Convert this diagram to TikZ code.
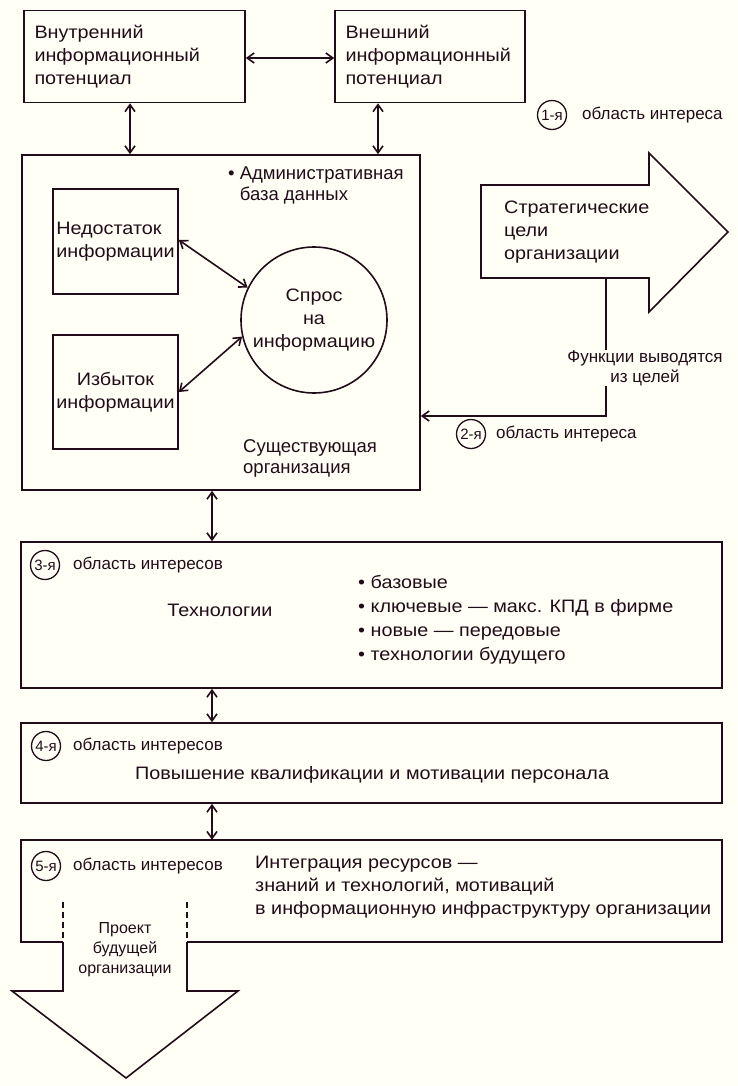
\documentclass[tikz,border=0pt]{standalone}
\usepackage{fontspec}
\setmainfont{Liberation Sans}
\newfontfamily\widefont{Liberation Sans}[FakeStretch=1.1]
\usetikzlibrary{arrows.meta}

\definecolor{paper}{RGB}{255,255,246}
\definecolor{ink}{RGB}{34,12,26}

\begin{document}
\begin{tikzpicture}[x=1pt,y=-1pt,>={Straight Barb[length=7pt,width=10pt]},
  box/.style={draw=ink,line width=1.6pt,inner sep=0pt},
  txt/.style={text=ink,font=\widefont\fontsize{18}{23}\selectfont,align=left,inner sep=0pt},
  plain/.style={text=ink,font=\fontsize{18.5}{21}\selectfont,align=left,inner sep=0pt},
  note/.style={text=ink,font=\fontsize{17}{20}\selectfont,align=center,inner sep=0pt},
  num/.style={circle,draw=ink,line width=1.3pt,minimum size=29pt,inner sep=0pt,text=ink,
    font=\fontsize{15}{15}\selectfont},
  link/.style={draw=ink,line width=1.6pt,<->},
  feed/.style={draw=ink,line width=1.6pt}]

% paper
\fill[paper] (0,0) rectangle (738,1086);
\useasboundingbox (0,0) rectangle (738,1086);

% potentials
\node (inner) [box, txt, text width=200pt, inner xsep=10.5pt, minimum height=92pt]
  at (134.5,56.5) {Внутренний\\информационный\\потенциал};
\node (outer) [box, txt, text width=169pt, inner xsep=10.5pt, minimum height=92pt]
  at (430,56.5) {Внешний\\информационный\\потенциал};

% existing organization
\node (org) [box, minimum width=398pt, minimum height=335pt] at (221,322.5) {};
\node (lack) [box, txt, minimum width=125pt, minimum height=105pt] at (115.5,241.5)
  {Недостаток\\информации};
\node (excess) [box, txt, align=center, minimum width=125pt, minimum height=114pt]
  at (115.5,392) {Избыток\\информации};
\node (demand) [circle, box, txt, align=center, minimum size=146pt] at (314,320)
  {Спрос\\на\\информацию};
\node (admin) [plain, anchor=north west] at (228,167)
  {• Административная\\\phantom{• }база данных};
\node (exist) [plain, anchor=west] at (243,458) {Существующая\\организация};

% strategic goals
\draw[feed] (481,185) -- (649,185) -- (649,153) -- (728,232) -- (649,312)
  -- (649,278) -- (481,278) -- cycle;
\node (goal) [txt, anchor=west] at (504,232) {Стратегические\\цели\\организации};
\coordinate (goalfoot) at (606,278);
\coordinate (bend) at (606,416);
\node (func) [note] at (645,368) {Функции выводятся\\из целей};

\node (n1) [num] at (552,115) {1-я};
\node (l1) [note, anchor=west] at (582,115) {область интереса};
\node (n2) [num] at (471,434) {2-я};
\node (l2) [note, anchor=west] at (496,434) {область интереса};

% areas of interest
\node (tech) [box, minimum width=701pt, minimum height=146pt] at (371.5,615) {};
\node (n3) [num] at (45,565) {3-я};
\node (l3) [note, anchor=west] at (73,565) {область интересов};
\node (techname) [txt] at (220,610) {Технологии};
\node (techlist) [txt, font=\widefont\fontsize{18}{24}\selectfont, anchor=west] at (358,619.5)
  {• базовые\\• ключевые — макс. КПД в фирме\\• новые — передовые\\• технологии будущего};

\node (staff) [box, minimum width=701pt, minimum height=80pt] at (371.5,763) {};
\node (n4) [num] at (46,746) {4-я};
\node (l4) [note, anchor=west] at (73,746) {область интересов};
\node (staffname) [txt] at (372,775) {Повышение квалификации и мотивации персонала};

\node (integ) [minimum width=701pt, minimum height=102pt, inner sep=0pt] at (371.5,891) {};
\node (n5) [num] at (46,866) {5-я};
\node (l5) [note, anchor=west] at (73,866) {область интересов};
\node (integname) [txt, anchor=north west] at (255,856)
  {Интеграция ресурсов —\\знаний и технологий, мотиваций\\в информационную инфраструктуру организации};

% project of the future organization
\coordinate (projl) at (63,902);
\coordinate (projr) at (187,902);
\draw[feed] (projl |- integ.south) -- (integ.south west) -- (integ.north west)
  -- (integ.north east) -- (integ.south east) -- (projr |- integ.south);
\draw[feed, line width=1.2pt, dash pattern=on 6pt off 4pt] (projl) -- (projl |- integ.south);
\draw[feed, line width=1.2pt, dash pattern=on 6pt off 4pt] (projr) -- (projr |- integ.south);
\draw[feed] (projl |- integ.south) -- (63,991) -- (12,991) -- (126,1078) -- (238,991)
  -- (187,991) -- (projr |- integ.south);
\node (proj) [note, font=\fontsize{16}{20}\selectfont] at (125,950) {Проект\\будущей\\организации};

% connectors
\coordinate (spine) at (212,0);
\draw[link] (inner.east |- 0,58) -- (outer.west |- 0,58);
\draw[link] ([xshift=-4.5pt]inner.south) -- ([xshift=-4.5pt]inner.south |- org.north);
\draw[link] ([xshift=-52pt]outer.south) -- ([xshift=-52pt]outer.south |- org.north);
\draw[link] ([yshift=1.5pt]lack.east) -- (demand.154);
\draw[link] (excess.east) -- (demand.193);
\draw[feed] (goalfoot) -- (goalfoot |- func.north);
\draw[feed, ->] (goalfoot |- func.south) -- (bend) -- (bend -| org.east);
\draw[link] (spine |- org.south) -- (spine |- tech.north);
\draw[link] (spine |- tech.south) -- (spine |- staff.north);
\draw[link] (spine |- staff.south) -- (spine |- integ.north);
\end{tikzpicture}
\end{document}
